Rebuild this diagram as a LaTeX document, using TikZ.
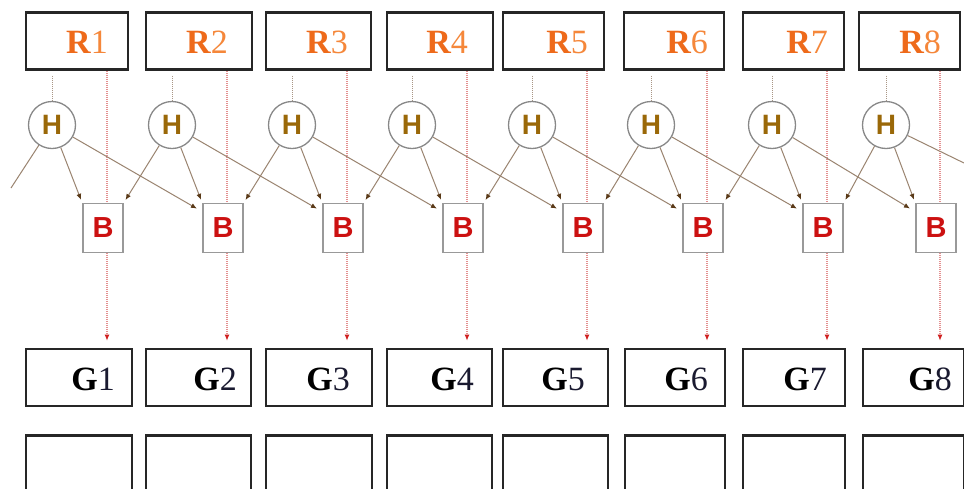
\documentclass[tikz,border=0pt]{standalone}
\usepackage{fontspec}
\setmainfont{Liberation Serif}
\newfontfamily\lsans{Liberation Sans}
\usetikzlibrary{arrows.meta,calc,backgrounds}

\definecolor{rorange}{HTML}{EE6A1A}
\definecolor{rdigit}{HTML}{F5873A}
\definecolor{hgold}{HTML}{9A6808}
\definecolor{bred}{HTML}{CC1111}
\definecolor{lbrown}{HTML}{9A8470}
\definecolor{abrown}{HTML}{5A3A18}
\definecolor{rline}{HTML}{E49090}
\definecolor{rtip}{HTML}{D02020}
\definecolor{boxgray}{HTML}{999999}
\definecolor{cgray}{HTML}{888888}
\definecolor{gdigit}{HTML}{1A1A30}

\tikzset{
 bigbox/.style={draw=black!85, line width=2.6pt, inner sep=0pt},
 hnode/.style={circle, draw=cgray, line width=1.3pt, fill=white, minimum size=47pt, inner sep=0pt, font=\lsans\bfseries\fontsize{28}{28}\selectfont, text=hgold},
 bnode/.style={draw=boxgray, line width=1.8pt, fill=white, minimum width=40pt, minimum height=49pt, inner sep=0pt, font=\lsans\bfseries\fontsize{29}{29}\selectfont, text=bred},
 rlabel/.style={anchor=base east, inner sep=0pt, font=\fontsize{34}{34}\selectfont},
 link/.style={draw=lbrown, line width=1pt, -{Latex[length=6pt,width=5pt,fill=abrown,color=abrown]}},
 plainlink/.style={draw=lbrown, line width=1pt},
 feed/.style={draw=rline, line width=1.1pt, dash pattern=on 1pt off 1pt, -{Latex[length=6pt,width=5pt,color=rtip]}},
 tap/.style={draw=lbrown!85, line width=1pt, dash pattern=on 1pt off 1pt},
}

\begin{document}
\begin{tikzpicture}[x=1pt,y=-1pt]
\path[use as bounding box, clip] (0,0) rectangle (964,488);

\foreach \i/\rc/\rw/\gc/\gw/\hx/\bx/\lx/\rt/\gt in {
1/77/102/79/106/52/103/107/108/115,
2/199/106/198.5/105/172/223/227/228/237,
3/318.5/105/319/106/292/343/347/348/350,
4/440/106/439.5/105/412/463/467/468/474,
5/553.5/101/555.5/105/532/583/587/588/585,
6/674/100/675/100/651/703/707/708/708,
7/793.5/101/794/102/772/823/827/828/827,
8/909.5/101/913.5/101/886/936/940/941/952}{
  \node[bigbox, minimum width=\rw pt, minimum height=57pt] (r\i) at (\rc,41) {};
  \node[rlabel] (rt\i) at (\rt,53) {\textcolor{rorange}{\bfseries R}\textcolor{rdigit}{\i}};
  \node[bigbox, minimum width=\gw pt, minimum height=57pt] (g\i) at (\gc,377.5) {};
  \node[rlabel] (gt\i) at (\gt,390) {\textbf{G}\textcolor{gdigit}{\i}};
  \node[bigbox, minimum width=\gw pt, minimum height=85pt] (e\i) at (\gc,478) {};
  \node[hnode] (h\i) at (\hx,125) {H};
  \node[bnode] (b\i) at (\bx,228) {B};
  \coordinate (l\i) at (\lx,0);
}
\coordinate (lend) at (11,188);
\coordinate (rend) at (964,163);

\begin{scope}[on background layer]
\fill[white] (0,0) rectangle (964,488);
\foreach \i in {1,...,8}{
  \draw[feed] (r\i.south -| l\i) -- ([yshift=7pt]g\i.north -| l\i);
  \draw[tap] ([yshift=-5pt]r\i.south -| h\i) -- (h\i.north);
  \draw[link, shorten >=3pt] (h\i) -- (b\i.north west);
}
\foreach \i/\j in {1/2,2/3,3/4,4/5,5/6,6/7,7/8}{
  \draw[link, shorten >=6pt] (h\i) -- ([yshift=-9pt]b\j.north west);
  \draw[link, shorten >=3pt] (h\j) -- (b\i.north east);
}
\draw[plainlink] (h1) -- (lend);
\draw[plainlink] (h8) -- (rend);
\end{scope}
\end{tikzpicture}
\end{document}
